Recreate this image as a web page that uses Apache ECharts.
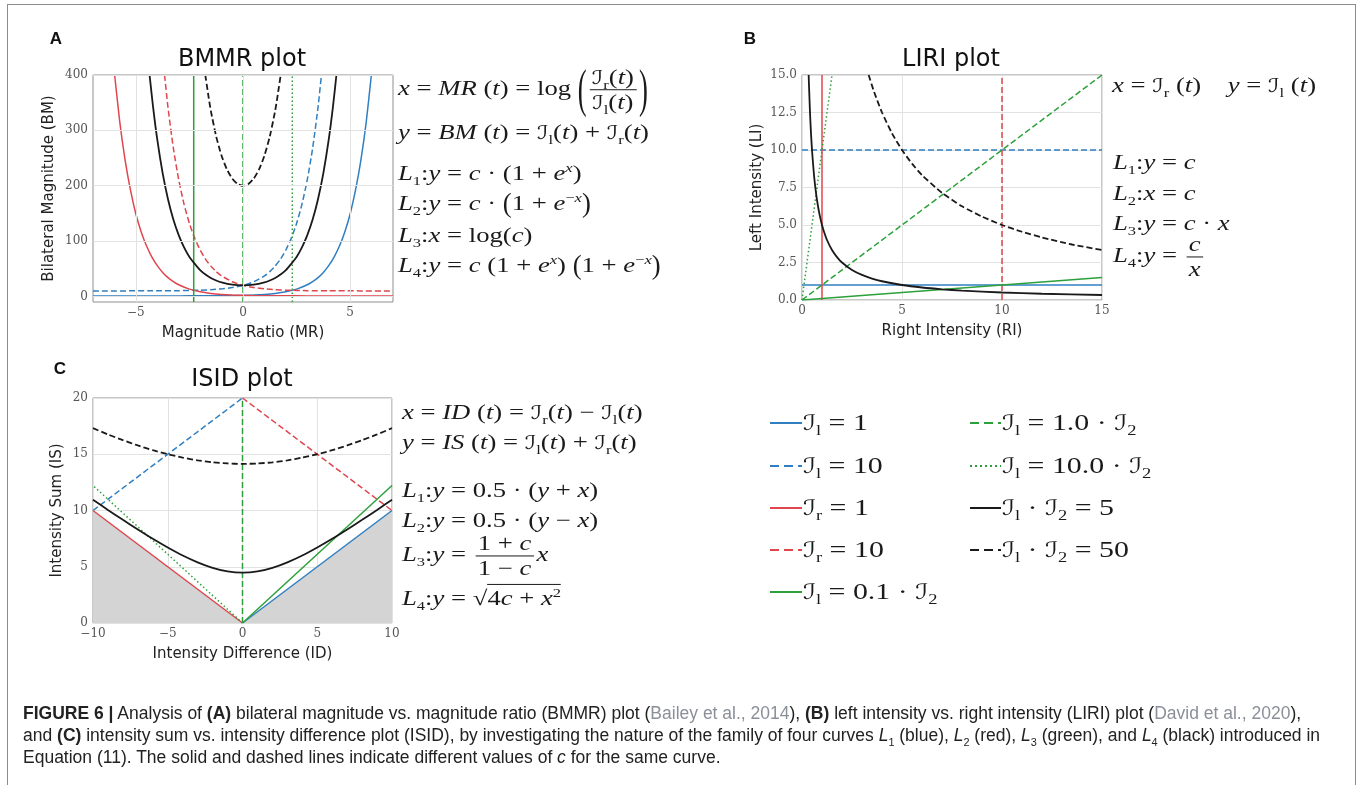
<!DOCTYPE html>
<html><head><meta charset="utf-8">
<script src="https://cdn.jsdelivr.net/npm/echarts@6/dist/echarts.min.js"></script>
<style>
html,body{margin:0;padding:0;background:#fff;}
#wrap{position:relative;width:1357px;height:785px;overflow:hidden;background:#fff;}
#chart{position:absolute;left:0;top:0;width:1357px;height:785px;}
.frame{position:absolute;left:7px;top:4px;width:1349px;height:900px;border:1.5px solid #8c8c8c;box-sizing:border-box;pointer-events:none;}
.eq{position:absolute;font-family:'Liberation Serif','DejaVu Serif',serif;font-size:21px;color:#1a1a1a;white-space:nowrap;line-height:1.15;transform:translateY(-50%) scaleX(1.27);transform-origin:0 50%;}
.lg{font-size:23px;transform:translateY(-50%) scaleX(1.3);}
.I{font-family:'DejaVu Serif','DejaVu Sans',serif;font-style:normal;font-size:0.92em;}
sub,sup{font-size:0.62em;line-height:0;}
.fr{display:inline-flex;flex-direction:column;align-items:center;vertical-align:middle;margin:0 2px;line-height:1.05;}
.fr>span:first-child{border-bottom:1.3px solid #1a1a1a;padding:0 2px 1px;}
.fr>span:last-child{padding:1px 2px 0;}
.bp{display:inline-block;transform:scaleY(2.5);font-weight:300;}
.mp{display:inline-block;transform:scaleY(1.3);}
.sq{border-top:1.3px solid #1a1a1a;padding-top:1px;}
.cap{position:absolute;left:23px;font-family:'Liberation Sans',Arial,sans-serif;font-size:17.5px;color:#222;white-space:nowrap;line-height:22px;}
.g{color:#8a8f99;}
</style>
</head>
<body>
<div id="wrap">
<div id="chart"></div>
<div class="frame"></div>

<!-- Panel A equations -->
<div class="eq" style="left:398px;top:90px;"><i>x</i> = <i>MR</i> (<i>t</i>) = log <span class="bp">(</span><span class="fr"><span><span class="I">ℐ</span><sub>r</sub>(<i>t</i>)</span><span><span class="I">ℐ</span><sub>l</sub>(<i>t</i>)</span></span><span class="bp">)</span></div>
<div class="eq" style="left:398px;top:132px;"><i>y</i> = <i>BM</i> (<i>t</i>) = <span class="I">ℐ</span><sub>l</sub>(<i>t</i>) + <span class="I">ℐ</span><sub>r</sub>(<i>t</i>)</div>
<div class="eq" style="left:398px;top:173px;"><i>L</i><sub>1</sub>:<i>y</i> = <i>c</i> · (1 + <i>e</i><sup><i>x</i></sup>)</div>
<div class="eq" style="left:398px;top:203px;"><i>L</i><sub>2</sub>:<i>y</i> = <i>c</i> · <span class="mp">(</span>1 + <i>e</i><sup>−<i>x</i></sup><span class="mp">)</span></div>
<div class="eq" style="left:398px;top:235px;"><i>L</i><sub>3</sub>:<i>x</i> = log(<i>c</i>)</div>
<div class="eq" style="left:398px;top:265px;"><i>L</i><sub>4</sub>:<i>y</i> = <i>c</i> (1 + <i>e</i><sup><i>x</i></sup>) <span class="mp">(</span>1 + <i>e</i><sup>−<i>x</i></sup><span class="mp">)</span></div>

<!-- Panel B equations -->
<div class="eq" style="left:1112px;top:85px;"><i>x</i> = <span class="I">ℐ</span><sub>r</sub> (<i>t</i>) &nbsp;&nbsp; <i>y</i> = <span class="I">ℐ</span><sub>l</sub> (<i>t</i>)</div>
<div class="eq" style="left:1113px;top:162px;"><i>L</i><sub>1</sub>:<i>y</i> = <i>c</i></div>
<div class="eq" style="left:1113px;top:193px;"><i>L</i><sub>2</sub>:<i>x</i> = <i>c</i></div>
<div class="eq" style="left:1113px;top:223px;"><i>L</i><sub>3</sub>:<i>y</i> = <i>c</i> · <i>x</i></div>
<div class="eq" style="left:1113px;top:257px;"><i>L</i><sub>4</sub>:<i>y</i> = <span class="fr"><span><i>c</i></span><span><i>x</i></span></span></div>

<!-- Panel C equations -->
<div class="eq" style="left:402px;top:412px;"><i>x</i> = <i>ID</i> (<i>t</i>) = <span class="I">ℐ</span><sub>r</sub>(<i>t</i>) − <span class="I">ℐ</span><sub>l</sub>(<i>t</i>)</div>
<div class="eq" style="left:402px;top:442px;"><i>y</i> = <i>IS</i> (<i>t</i>) = <span class="I">ℐ</span><sub>l</sub>(<i>t</i>) + <span class="I">ℐ</span><sub>r</sub>(<i>t</i>)</div>
<div class="eq" style="left:402px;top:490px;"><i>L</i><sub>1</sub>:<i>y</i> = 0.5 · (<i>y</i> + <i>x</i>)</div>
<div class="eq" style="left:402px;top:520px;"><i>L</i><sub>2</sub>:<i>y</i> = 0.5 · (<i>y</i> − <i>x</i>)</div>
<div class="eq" style="left:402px;top:556px;"><i>L</i><sub>3</sub>:<i>y</i> = <span class="fr"><span>1 + <i>c</i></span><span>1 − <i>c</i></span></span><i>x</i></div>
<div class="eq" style="left:402px;top:598px;"><i>L</i><sub>4</sub>:<i>y</i> = √<span class="sq">4<i>c</i> + <i>x</i><sup>2</sup></span></div>

<!-- Legend texts -->
<div class="eq lg" style="left:803px;top:423px;"><span class="I">ℐ</span><sub>l</sub> = 1</div>
<div class="eq lg" style="left:803px;top:466px;"><span class="I">ℐ</span><sub>l</sub> = 10</div>
<div class="eq lg" style="left:803px;top:508px;"><span class="I">ℐ</span><sub>r</sub> = 1</div>
<div class="eq lg" style="left:803px;top:550px;"><span class="I">ℐ</span><sub>r</sub> = 10</div>
<div class="eq lg" style="left:803px;top:592px;"><span class="I">ℐ</span><sub>l</sub> = 0.1 · <span class="I">ℐ</span><sub>2</sub></div>
<div class="eq lg" style="left:1002px;top:423px;"><span class="I">ℐ</span><sub>l</sub> = 1.0 · <span class="I">ℐ</span><sub>2</sub></div>
<div class="eq lg" style="left:1002px;top:466px;"><span class="I">ℐ</span><sub>l</sub> = 10.0 · <span class="I">ℐ</span><sub>2</sub></div>
<div class="eq lg" style="left:1002px;top:508px;"><span class="I">ℐ</span><sub>l</sub> · <span class="I">ℐ</span><sub>2</sub> = 5</div>
<div class="eq lg" style="left:1002px;top:550px;"><span class="I">ℐ</span><sub>l</sub> · <span class="I">ℐ</span><sub>2</sub> = 50</div>

<!-- Caption -->
<div class="cap" style="top:702px;"><b>FIGURE 6 |</b> Analysis of <b>(A)</b> bilateral magnitude vs. magnitude ratio (BMMR) plot (<span class="g">Bailey et al., 2014</span>), <b>(B)</b> left intensity vs. right intensity (LIRI) plot (<span class="g">David et al., 2020</span>),</div>
<div class="cap" style="top:724px;">and <b>(C)</b> intensity sum vs. intensity difference plot (ISID), by investigating the nature of the family of four curves <i>L</i><sub>1</sub> (blue), <i>L</i><sub>2</sub> (red), <i>L</i><sub>3</sub> (green), and <i>L</i><sub>4</sub> (black) introduced in</div>
<div class="cap" style="top:746px;">Equation (11). The solid and dashed lines indicate different values of <i>c</i> for the same curve.</div>
</div>

<script>
// ---------- Data ----------
// Panel A (BMMR): [MR, BM]
const aXTicks = [-5, 0, 5];
const aYTicks = [0, 100, 200, 300, 400];
const aBlueSolid = [[-7,1.0],[-5,1.01],[-3,1.05],[-2,1.14],[-1,1.37],[-0.5,1.61],[0,2],[0.5,2.65],[1,3.72],[1.5,5.48],[2,8.39],[2.5,13.2],[3,21.1],[3.25,26.8],[3.5,34.1],[3.75,43.5],[4,55.6],[4.25,71.1],[4.5,91],[4.75,116.6],[5,149],[5.25,192],[5.5,246],[5.75,315],[5.99,400]];
const aBlueDash = [[-7,10],[-4,10.2],[-3,10.5],[-2,11.4],[-1.5,12.2],[-1,13.7],[-0.5,16.1],[0,20],[0.5,26.5],[1,37.2],[1.25,44.9],[1.5,54.8],[1.75,67.5],[2,83.9],[2.25,104.9],[2.5,131.8],[2.75,166.4],[3,210.9],[3.25,267.9],[3.5,341.2],[3.66,400]];
const aRedSolid = [[-5.99,400],[-5.75,315],[-5.5,246],[-5.25,192],[-5,149],[-4.75,116.6],[-4.5,91],[-4.25,71.1],[-4,55.6],[-3.75,43.5],[-3.5,34.1],[-3.25,26.8],[-3,21.1],[-2.5,13.2],[-2,8.39],[-1.5,5.48],[-1,3.72],[-0.5,2.65],[0,2],[0.5,1.61],[1,1.37],[2,1.14],[3,1.05],[5,1.01],[7,1.0]];
const aRedDash = [[-3.66,400],[-3.5,341.2],[-3.25,267.9],[-3,210.9],[-2.75,166.4],[-2.5,131.8],[-2.25,104.9],[-2,83.9],[-1.75,67.5],[-1.5,54.8],[-1.25,44.9],[-1,37.2],[-0.5,26.5],[0,20],[0.5,16.1],[1,13.7],[1.5,12.2],[2,11.4],[3,10.5],[4,10.2],[7,10]];
const aGreenSolid = [[-2.3,-10],[-2.3,400]];
const aGreenDash = [[0,-10],[0,400]];
const aGreenDot = [[2.3,-10],[2.3,400]];
const aBlackSolid = [[-4.36,400],[-4.2,343.5],[-4,283.1],[-3.75,222.7],[-3.5,175.7],[-3.25,139.0],[-3,110.7],[-2.75,88.5],[-2.5,71.3],[-2.25,58.9],[-2,47.6],[-1.75,39.6],[-1.5,33.5],[-1.25,28.9],[-1,25.4],[-0.5,21.3],[0,20],[0.5,21.3],[1,25.4],[1.25,28.9],[1.5,33.5],[1.75,39.6],[2,47.6],[2.25,58.9],[2.5,71.3],[2.75,88.5],[3,110.7],[3.25,139.0],[3.5,175.7],[3.75,222.7],[4,283.1],[4.2,343.5],[4.36,400]];
const aBlackDash = [[-1.76,400],[-1.6,358.8],[-1.5,335.2],[-1.25,288.8],[-1,254.3],[-0.75,229.5],[-0.5,212.8],[-0.25,203.1],[0,200],[0.25,203.1],[0.5,212.8],[0.75,229.5],[1,254.3],[1.25,288.8],[1.5,335.2],[1.6,358.8],[1.76,400]];

// Panel B (LIRI): [RI, LI]
const bBlueSolid = [[0,1],[15,1]];
const bBlueDash = [[0,10],[15,10]];
const bRedSolid = [[1,0],[1,15]];
const bRedDash = [[10,0],[10,15]];
const bGreenSolid = [[0,0],[15,1.5]];
const bGreenDash = [[0,0],[15,15]];
const bGreenDot = [[0,0],[1.5,15]];
const bBlackSolid = [[0.333,15],[0.35,14.29],[0.4,12.5],[0.45,11.11],[0.5,10],[0.6,8.33],[0.7,7.14],[0.8,6.25],[0.9,5.56],[1,5],[1.1,4.55],[1.25,4],[1.5,3.33],[1.75,2.86],[2,2.5],[2.5,2],[3,1.67],[3.5,1.43],[4,1.25],[5,1],[6,0.833],[7,0.714],[8,0.625],[10,0.5],[12,0.417],[15,0.333]];
const bBlackDash = [[3.333,15],[3.6,13.89],[4,12.5],[4.5,11.11],[5,10],[5.5,9.09],[6,8.33],[7,7.14],[8,6.25],[9,5.56],[10,5],[11,4.55],[12,4.17],[13.5,3.70],[15,3.33]];

// Panel C (ISID): [ID, IS]
const cShade = [[-10,10],[0,0],[10,10]];
const cBlueSolid = [[0,0],[10,10]];
const cBlueDash = [[-10,10],[0,20]];
const cRedSolid = [[-10,10],[0,0]];
const cRedDash = [[0,20],[10,10]];
const cGreenSolid = [[0,0],[10,12.22]];
const cGreenDash = [[0,0],[0,20]];
const cGreenDot = [[0,0],[-10,12.22]];
const cBlackSolid = [[-10,10.95],[-9,10.05],[-8,9.17],[-7,8.31],[-6,7.48],[-5,6.71],[-4,6.0],[-3,5.39],[-2,4.9],[-1,4.58],[0,4.47],[1,4.58],[2,4.9],[3,5.39],[4,6.0],[5,6.71],[6,7.48],[7,8.31],[8,9.17],[9,10.05],[10,10.95]];
const cBlackDash = [[-10,17.32],[-9,16.76],[-8,16.25],[-7,15.78],[-6,15.36],[-5,15.0],[-4,14.7],[-3,14.46],[-2,14.28],[-1,14.18],[0,14.14],[1,14.18],[2,14.28],[3,14.46],[4,14.7],[5,15.0],[6,15.36],[7,15.78],[8,16.25],[9,16.76],[10,17.32]];

// ---------- Styling ----------
const BLUE = '#2f7fc1', RED = '#e0464e', GREEN = '#2ca03a', BLACK = '#1a1a1a';
const DASH = [6, 3], DOT = [1.5, 2.5];
const GRIDC = '#e2e2e2';
const labelStyle = {fontFamily: 'DejaVu Serif', fontSize: 12, color: '#555'};
const nameStyle = {fontFamily: 'DejaVu Sans', fontSize: 15, color: '#222'};
const fmtMinus = v => (v < 0 ? '\u2212' + Math.abs(v) : String(v));

function ln(g, data, color, type, width, smooth) {
  return {
    type: 'line', xAxisIndex: g, yAxisIndex: g, data: data,
    symbol: 'none', showSymbol: false, silent: true, z: 3, clip: true,
    smooth: smooth ? 0.2 : false,
    lineStyle: {color: color, width: width || 1.5, type: type || 'solid'}
  };
}

const gridBase = {show: true, borderColor: '#8f8f8f', borderWidth: 1, backgroundColor: 'transparent'};
const noLine = {show: false};

const option = {
  animation: false,
  backgroundColor: 'transparent',
  grid: [
    Object.assign({left: 93, top: 75, width: 300, height: 227}, gridBase),
    Object.assign({left: 802, top: 75, width: 300, height: 225}, gridBase),
    Object.assign({left: 93, top: 398, width: 299, height: 225}, gridBase)
  ],
  xAxis: [
    {gridIndex: 0, type: 'value', min: -7, max: 7, axisLine: noLine, axisTick: noLine, splitLine: noLine,
     axisLabel: Object.assign({customValues: aXTicks, formatter: fmtMinus, margin: 5}, labelStyle),
     name: 'Magnitude Ratio (MR)', nameLocation: 'middle', nameGap: 24, nameTextStyle: nameStyle},
    {gridIndex: 1, type: 'value', min: 0, max: 15, interval: 5, axisLine: noLine, axisTick: noLine,
     splitLine: {show: true, lineStyle: {color: GRIDC}},
     axisLabel: Object.assign({margin: 5, showMinLabel: true, showMaxLabel: true}, labelStyle),
     name: 'Right Intensity (RI)', nameLocation: 'middle', nameGap: 24, nameTextStyle: nameStyle},
    {gridIndex: 2, type: 'value', min: -10, max: 10, interval: 5, axisLine: noLine, axisTick: noLine,
     splitLine: {show: true, lineStyle: {color: GRIDC}},
     axisLabel: Object.assign({formatter: fmtMinus, margin: 5, showMinLabel: true, showMaxLabel: true}, labelStyle),
     name: 'Intensity Difference (ID)', nameLocation: 'middle', nameGap: 24, nameTextStyle: nameStyle}
  ],
  yAxis: [
    {gridIndex: 0, type: 'value', min: -10, max: 400, axisLine: noLine, axisTick: noLine, splitLine: noLine,
     axisLabel: Object.assign({customValues: aYTicks, margin: 5}, labelStyle),
     name: 'Bilateral Magnitude (BM)', nameLocation: 'middle', nameGap: 36, nameTextStyle: nameStyle},
    {gridIndex: 1, type: 'value', min: 0, max: 15, interval: 2.5, axisLine: noLine, axisTick: noLine,
     splitLine: {show: true, lineStyle: {color: GRIDC}},
     axisLabel: Object.assign({formatter: v => v.toFixed(1), margin: 5, showMinLabel: true, showMaxLabel: true}, labelStyle),
     name: 'Left Intensity (LI)', nameLocation: 'middle', nameGap: 37, nameTextStyle: nameStyle},
    {gridIndex: 2, type: 'value', min: 0, max: 20, interval: 5, axisLine: noLine, axisTick: noLine,
     splitLine: {show: true, lineStyle: {color: GRIDC}},
     axisLabel: Object.assign({margin: 5, showMinLabel: true, showMaxLabel: true}, labelStyle),
     name: 'Intensity Sum (IS)', nameLocation: 'middle', nameGap: 28, nameTextStyle: nameStyle}
  ],
  series: [
    {type: 'line', xAxisIndex: 0, yAxisIndex: 0, data: [], z: 1, silent: true,
     markLine: {silent: true, symbol: ['none', 'none'], animation: false, label: {show: false},
       lineStyle: {color: GRIDC, width: 1, type: 'solid'},
       data: aXTicks.map(v => ({xAxis: v})).concat(aYTicks.map(v => ({yAxis: v})))}},
    ln(0, aBlueSolid, BLUE, 'solid', 1.5, true),
    ln(0, aBlueDash, BLUE, DASH, 1.5, true),
    ln(0, aRedSolid, RED, 'solid', 1.5, true),
    ln(0, aRedDash, RED, DASH, 1.5, true),
    ln(0, aGreenSolid, GREEN, 'solid', 1.5),
    ln(0, aGreenDash, GREEN, DASH, 1.5),
    ln(0, aGreenDot, GREEN, DOT, 1.5),
    ln(0, aBlackSolid, BLACK, 'solid', 1.8, true),
    ln(0, aBlackDash, BLACK, DASH, 1.8, true),

    ln(1, bBlueSolid, BLUE, 'solid', 1.5),
    ln(1, bBlueDash, BLUE, DASH, 1.5),
    ln(1, bRedSolid, RED, 'solid', 1.5),
    ln(1, bRedDash, RED, DASH, 1.5),
    ln(1, bGreenSolid, GREEN, 'solid', 1.5),
    ln(1, bGreenDash, GREEN, DASH, 1.5),
    ln(1, bGreenDot, GREEN, DOT, 1.5),
    ln(1, bBlackSolid, BLACK, 'solid', 1.8, true),
    ln(1, bBlackDash, BLACK, DASH, 1.8, true),

    {type: 'line', xAxisIndex: 2, yAxisIndex: 2, data: cShade, symbol: 'none', silent: true, z: 2,
     lineStyle: {width: 0}, areaStyle: {color: '#d4d4d4', opacity: 1}},
    ln(2, cBlueSolid, BLUE, 'solid', 1.5),
    ln(2, cBlueDash, BLUE, DASH, 1.5),
    ln(2, cRedSolid, RED, 'solid', 1.5),
    ln(2, cRedDash, RED, DASH, 1.5),
    ln(2, cGreenSolid, GREEN, 'solid', 1.5),
    ln(2, cGreenDash, GREEN, DASH, 1.5),
    ln(2, cGreenDot, GREEN, DOT, 1.5),
    ln(2, cBlackSolid, BLACK, 'solid', 1.8, true),
    ln(2, cBlackDash, BLACK, DASH, 1.8, true)
  ],
  graphic: [
    {type: 'text', x: 56, y: 39, style: {text: 'A', align: 'center', verticalAlign: 'middle', fontFamily: 'Liberation Sans', fontWeight: 'bold', fontSize: 17, fill: '#111'}},
    {type: 'text', x: 242, y: 60, style: {text: 'BMMR plot', align: 'center', verticalAlign: 'middle', fontFamily: 'DejaVu Sans', fontSize: 24, fill: '#111'}},
    {type: 'text', x: 750, y: 39, style: {text: 'B', align: 'center', verticalAlign: 'middle', fontFamily: 'Liberation Sans', fontWeight: 'bold', fontSize: 17, fill: '#111'}},
    {type: 'text', x: 951, y: 60, style: {text: 'LIRI plot', align: 'center', verticalAlign: 'middle', fontFamily: 'DejaVu Sans', fontSize: 24, fill: '#111'}},
    {type: 'text', x: 60, y: 369, style: {text: 'C', align: 'center', verticalAlign: 'middle', fontFamily: 'Liberation Sans', fontWeight: 'bold', fontSize: 17, fill: '#111'}},
    {type: 'text', x: 242, y: 380, style: {text: 'ISID plot', align: 'center', verticalAlign: 'middle', fontFamily: 'DejaVu Sans', fontSize: 24, fill: '#111'}},
    {type: 'line', shape: {x1: 770, y1: 423, x2: 802, y2: 423}, style: {stroke: BLUE, lineWidth: 2}},
    {type: 'line', shape: {x1: 770, y1: 466, x2: 802, y2: 466}, style: {stroke: BLUE, lineWidth: 2, lineDash: [9, 5]}},
    {type: 'line', shape: {x1: 770, y1: 508, x2: 802, y2: 508}, style: {stroke: RED, lineWidth: 2}},
    {type: 'line', shape: {x1: 770, y1: 550, x2: 802, y2: 550}, style: {stroke: RED, lineWidth: 2, lineDash: [9, 5]}},
    {type: 'line', shape: {x1: 770, y1: 592, x2: 802, y2: 592}, style: {stroke: GREEN, lineWidth: 2}},
    {type: 'line', shape: {x1: 970, y1: 423, x2: 1001, y2: 423}, style: {stroke: GREEN, lineWidth: 2, lineDash: [9, 5]}},
    {type: 'line', shape: {x1: 970, y1: 466, x2: 1001, y2: 466}, style: {stroke: GREEN, lineWidth: 2, lineDash: [2, 3]}},
    {type: 'line', shape: {x1: 970, y1: 508, x2: 1001, y2: 508}, style: {stroke: BLACK, lineWidth: 2}},
    {type: 'line', shape: {x1: 970, y1: 550, x2: 1001, y2: 550}, style: {stroke: BLACK, lineWidth: 2, lineDash: [9, 5]}}
  ]
};

const chart = echarts.init(document.getElementById('chart'));
chart.setOption(option);
</script>
</body></html>
